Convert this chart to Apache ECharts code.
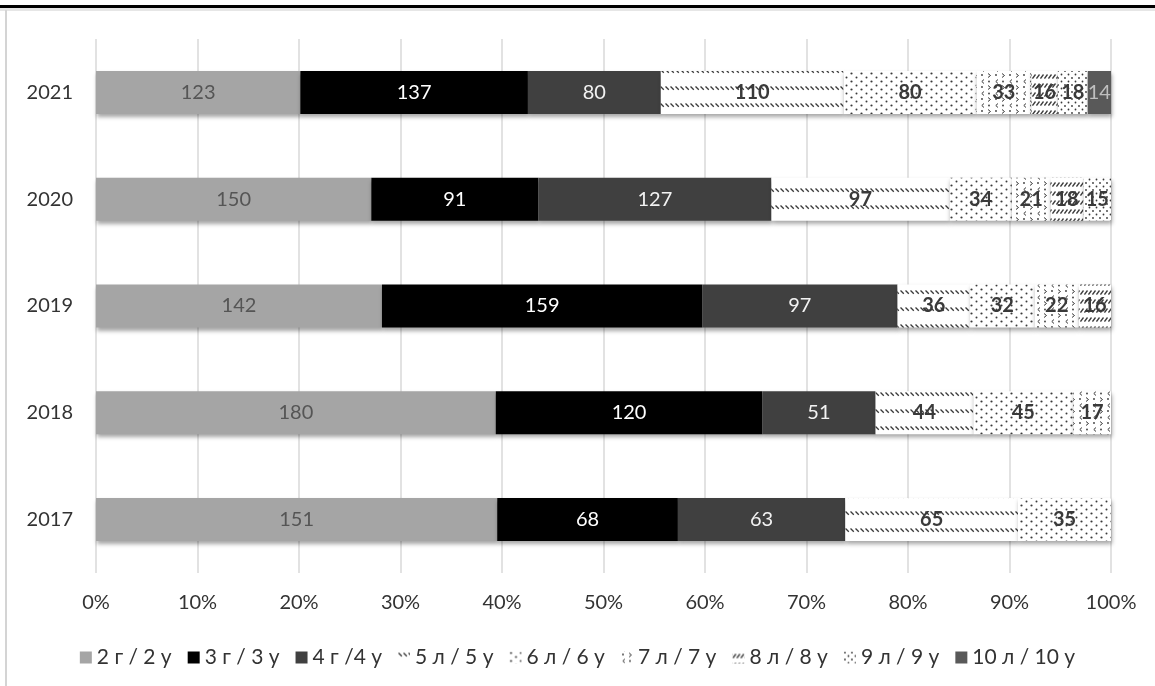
<!DOCTYPE html>
<html>
<head>
<meta charset="utf-8">
<script src="https://cdn.jsdelivr.net/npm/echarts@6/dist/echarts.min.js"></script>
<style>
  html, body { margin: 0; padding: 0; background: #ffffff; }
  #chart { width: 1155px; height: 686px; }
</style>
</head>
<body>
<div id="chart"></div>
<script>
// Years on the category axis (bottom to top)
const years = ['2017', '2018', '2019', '2020', '2021'];

// Legend / series names
const seriesNames = ['2 г / 2 у', '3 г / 3 у', '4 г /4 у', '5 л / 5 у', '6 л / 6 у',
                     '7 л / 7 у', '8 л / 8 у', '9 л / 9 у', '10 л / 10 у'];

// Counts per year, one array per group (null = no segment)
const g2  = [151, 180, 142, 150, 123];
const g3  = [68, 120, 159, 91, 137];
const g4  = [63, 51, 97, 127, 80];
const g5  = [65, 44, 36, 97, 110];
const g6  = [35, 45, 32, 34, 80];
const g7  = [null, 17, 22, 21, 33];
const g8  = [null, null, 16, 18, 16];
const g9  = [null, null, null, 15, 18];
const g10 = [null, null, null, null, 14];

// Percent axis ticks
const pctTicks = [0, 10, 20, 30, 40, 50, 60, 70, 80, 90, 100];

const groups = [g2, g3, g4, g5, g6, g7, g8, g9, g10];

// Yearly totals used to turn counts into shares of 100%
const totals = years.map((_, i) => groups.reduce((s, g) => s + (g[i] || 0), 0));

// Small repeating canvas fills for the hatched groups
function pattern(w, h, draw) {
  const c = document.createElement('canvas');
  c.width = w; c.height = h;
  const ctx = c.getContext('2d');
  ctx.fillStyle = '#ffffff';
  ctx.fillRect(0, 0, w, h);
  ctx.strokeStyle = '#3a3a3a';
  ctx.fillStyle = '#3a3a3a';
  ctx.lineWidth = 1.3;
  draw(ctx);
  return { image: c, repeat: 'repeat' };
}
function dot(ctx, x, y, r) { ctx.beginPath(); ctx.arc(x, y, r, 0, Math.PI * 2); ctx.fill(); }
function seg(ctx, x1, y1, x2, y2) { ctx.beginPath(); ctx.moveTo(x1, y1); ctx.lineTo(x2, y2); ctx.stroke(); }

const fills = [
  '#a5a5a5',
  '#000000',
  '#404040',
  // dashed downward diagonal
  pattern(5, 17, ctx => { seg(ctx, 0.5, 1.5, 3.8, 4.8); }),
  // spaced dots
  pattern(10, 8, ctx => { dot(ctx, 1.5, 1.5, 1.1); dot(ctx, 6.5, 5.5, 1.0); }),
  // sparse dots with small chevrons
  pattern(14, 12, ctx => {
    ctx.lineWidth = 1;
    dot(ctx, 2, 3, 0.9); dot(ctx, 9, 9.5, 0.9);
    seg(ctx, 8, 1.5, 10.5, 3.5); seg(ctx, 10.5, 3.5, 8, 5.5);
    seg(ctx, 4, 7.5, 1.8, 9.5); seg(ctx, 1.8, 9.5, 4, 11.5);
  }),
  // dashed upward diagonal
  pattern(4, 9, ctx => { seg(ctx, 0.5, 6.5, 3.5, 2.5); }),
  // fine dots
  pattern(7, 7, ctx => { dot(ctx, 1, 1, 0.9); dot(ctx, 4.5, 4.5, 0.9); }),
  '#595959'
];

const labelColors = ['#555555', '#ffffff', '#f2f2f2', '#3a3a3a', '#3a3a3a',
                     '#3a3a3a', '#3a3a3a', '#3a3a3a', '#bfbfbf'];
const labelBold = [false, false, false, true, true, true, true, true, false];

const FONT = 'Lato';

const series = groups.map((g, k) => ({
  name: seriesNames[k],
  type: 'bar',
  stack: 'all',
  barWidth: 43,
  data: g.map((v, i) => v == null ? null : { value: v / totals[i] * 100, raw: v }),
  itemStyle: {
    color: fills[k],
    shadowColor: 'rgba(0,0,0,0.35)',
    shadowBlur: 4,
    shadowOffsetX: 1,
    shadowOffsetY: 3
  },
  label: {
    show: true,
    position: 'inside',
    fontFamily: FONT,
    fontSize: 20,
    fontWeight: labelBold[k] ? 'bold' : 'normal',
    color: labelColors[k],
    formatter: p => p.data && p.data.raw != null ? String(p.data.raw) : ''
  },
  emphasis: { disabled: true }
}));

const chart = echarts.init(document.getElementById('chart'), null, { renderer: 'canvas' });
chart.setOption({
  animation: false,
  backgroundColor: '#ffffff',
  grid: { left: 96, right: 44, top: 39, bottom: 113, containLabel: false },
  xAxis: {
    type: 'value',
    min: pctTicks[0],
    max: pctTicks[pctTicks.length - 1],
    interval: pctTicks[1] - pctTicks[0],
    axisLine: { show: false },
    axisTick: { show: false },
    splitLine: { show: true, lineStyle: { color: '#d9d9d9', width: 1.5 } },
    axisLabel: {
      margin: 20,
      fontFamily: FONT,
      fontSize: 20,
      color: '#333333',
      formatter: v => v + '%'
    }
  },
  yAxis: {
    type: 'category',
    data: years,
    axisLine: { show: false },
    axisTick: { show: false },
    axisLabel: { margin: 23, fontFamily: FONT, fontSize: 20, color: '#333333' }
  },
  legend: {
    data: seriesNames,
    top: 642,
    left: 'center',
    icon: 'rect',
    itemWidth: 12,
    itemHeight: 12,
    itemGap: 16,
    textStyle: { fontFamily: FONT, fontSize: 21, color: '#333333' },
    selectedMode: false
  },
  graphic: [
    { type: 'rect', shape: { x: 0, y: 5, width: 1155, height: 3 }, style: { fill: '#000000' }, silent: true },
    { type: 'rect', shape: { x: 0, y: 8, width: 1155, height: 3 }, style: { fill: '#e6e6e6' }, silent: true },
    { type: 'rect', shape: { x: 5, y: 10, width: 2, height: 676 }, style: { fill: '#d4d4d4' }, silent: true }
  ],
  series: series
});
</script>
</body>
</html>
